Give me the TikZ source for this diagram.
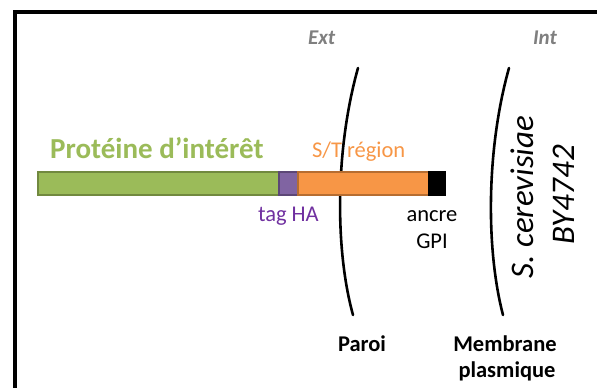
\documentclass[tikz,border=0pt]{standalone}
\usepackage{fontspec}
\setmainfont{Carlito}
\definecolor{gGreen}{HTML}{9BBB59}
\definecolor{gGreenD}{HTML}{71893F}
\definecolor{gPurple}{HTML}{8064A2}
\definecolor{gPurpleD}{HTML}{5C4776}
\definecolor{gOrange}{HTML}{F79646}
\definecolor{gOrangeD}{HTML}{B66D31}
\definecolor{tPurple}{HTML}{7030A0}
\definecolor{tGray}{HTML}{7F7F7F}
\begin{document}
\begin{tikzpicture}[x=1pt,y=-1pt,
  seg/.style={draw, line width=1.2pt, minimum height=23pt, inner sep=0pt, outer sep=0pt, anchor=west},
  lbl/.style={inner sep=0pt, outer sep=0pt, anchor=base, font=\fontsize{22.5}{27}\selectfont},
  side/.style={inner sep=0pt, outer sep=0pt, anchor=base west, text=tGray, font=\fontsize{21}{25}\bfseries\itshape\selectfont},
  wall/.style={line width=2.6pt, line cap=round}]
\useasboundingbox (0,0) rectangle (597,388);
% frame
\draw[line width=4pt] (597,12) -- (15,12) -- (15,388);
% labels
\node[side] (ext) at (308,44) {Ext};
\node[side] (int) at (533,44) {Int};
\node[inner sep=0pt, anchor=base west, text=gGreen, font=\fontsize{29}{35}\bfseries\selectfont] (prot) at (50,158) {Protéine d’intérêt};
\node[lbl, anchor=base west, text=gOrange] (streg) at (312,157) {S/T région};
\node[lbl, anchor=base west, text=tPurple] (tagha) at (258,221) {tag HA};
\node[lbl] (ancre) at (432,221) {ancre};
\node[lbl] (gpil) at (432,248) {GPI};
\node[lbl, font=\fontsize{22.5}{27}\bfseries\selectfont] (paroi) at (362,351) {Paroi};
\node[lbl, font=\fontsize{22.5}{27}\bfseries\selectfont] (memb) at (505,351) {Membrane};
\node[lbl, font=\fontsize{22.5}{27}\bfseries\selectfont] (plasm) at (507,377) {plasmique};
\node[inner sep=0pt, anchor=base, rotate=90, font=\fontsize{33}{40}\itshape\selectfont] (sc) at (533,197) {S. cerevisiae};
\node[inner sep=0pt, anchor=base, rotate=90, font=\fontsize{33}{40}\itshape\selectfont] (by) at (574,195) {BY4742};
% walls
\coordinate (pt) at (358,68);
\coordinate (pb) at (353,315);
\coordinate (mt) at (509,68);
\coordinate (mb) at (503,315);
\draw[wall] (pt) .. controls (335,150) and (335,250) .. (pb);
\draw[wall] (mt) .. controls (486,150) and (486,250) .. (mb);
% construct
\node[seg, fill=gGreen, draw=gGreenD, minimum width=241pt] (green) at (38,183.5) {};
\node[seg, fill=gPurple, draw=gPurpleD, minimum width=19pt] (tag) at (279,183.5) {};
\node[seg, fill=gOrange, draw=gOrangeD, minimum width=131pt] (st) at (298,183.5) {};
\node[seg, fill=black, draw=black, minimum width=16pt] (gpi) at (429,183.5) {};
\end{tikzpicture}
\end{document}
